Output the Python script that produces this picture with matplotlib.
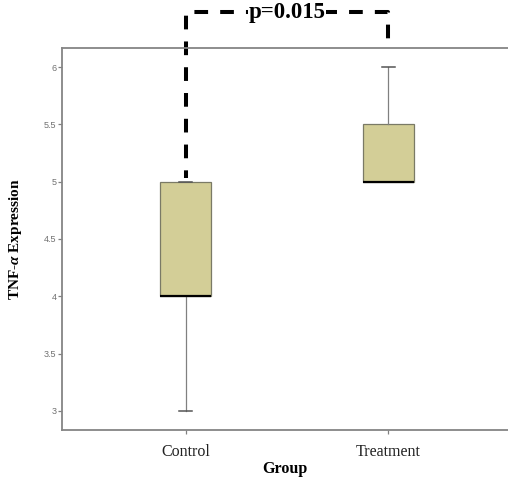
import matplotlib
matplotlib.use("Agg")
import matplotlib.pyplot as plt

# Box statistics
groups = ["Control", "Treatment"]
whislo = [3.0, 5.0]
q1 = [4.0, 5.0]
med = [4.0, 5.0]
q3 = [5.0, 5.5]
whishi = [5.0, 6.0]
yticks = [3, 3.5, 4, 4.5, 5, 5.5, 6]
ytick_labels = ["3", "3.5", "4", "4.5", "5", "5.5", "6"]
p_label = "p=0.015"

plt.rcParams["mathtext.fontset"] = "custom"
plt.rcParams["mathtext.it"] = "Liberation Serif:italic:bold"

stats = []
for i in range(len(groups)):
    stats.append({"label": groups[i], "whislo": whislo[i], "q1": q1[i],
                  "med": med[i], "q3": q3[i], "whishi": whishi[i], "fliers": []})

fig = plt.figure(figsize=(5.08, 4.79), dpi=100)
ax = fig.add_axes([62 / 508, 1 - 430 / 479, 1 - 62 / 508, (430 - 48) / 479])

ax.bxp(stats, positions=[0, 1], widths=0.25, capwidths=0.065,
       showfliers=False, patch_artist=True,
       boxprops=dict(facecolor="#d3ce97", edgecolor="#7a7a66", linewidth=0.9),
       medianprops=dict(color="black", linewidth=1.6),
       whiskerprops=dict(color="#808080", linewidth=0.9),
       capprops=dict(color="#555555", linewidth=1.1))

ax.set_xlim(-0.61, 1.59)
ax.set_ylim(2.834, 6.166)
ax.set_yticks(yticks)
ax.set_yticklabels(ytick_labels, fontsize=6.5, color="#707070", family="Liberation Sans")
ax.set_xticks([0, 1])
ax.set_xticklabels(groups, fontsize=11.5, family="Liberation Serif", color="#222222")
ax.tick_params(axis="y", length=3, width=0.9, color="#808080", pad=1)
ax.tick_params(axis="x", length=3, width=0.9, color="#808080", pad=7)

for side in ["left", "top", "bottom"]:
    ax.spines[side].set_color("#858585")
    ax.spines[side].set_linewidth(1.3)
ax.spines["right"].set_visible(False)

ax.set_xlabel("Group", fontsize=11.5, fontweight="bold", family="Liberation Serif", labelpad=1)
ax.set_ylabel("TNF-$\\alpha$ Expression", fontsize=11, fontweight="bold",
              family="Liberation Serif", labelpad=14)

# significance bracket
bx = [0, 0, 1, 1]
by = [5.03, 6.48, 6.48, 6.19]
ax.plot(bx, by, color="black", linewidth=2.9, linestyle=(1.5, (3.4, 3.0)),
        clip_on=False, solid_capstyle="butt", dash_capstyle="butt")
ax.text(0.5, 6.48, p_label, ha="center", va="center", fontsize=16.5,
        fontweight="bold", family="Liberation Serif", clip_on=False,
        bbox=dict(facecolor="white", edgecolor="none", pad=0.3))

fig.savefig("out.png", dpi=100)
